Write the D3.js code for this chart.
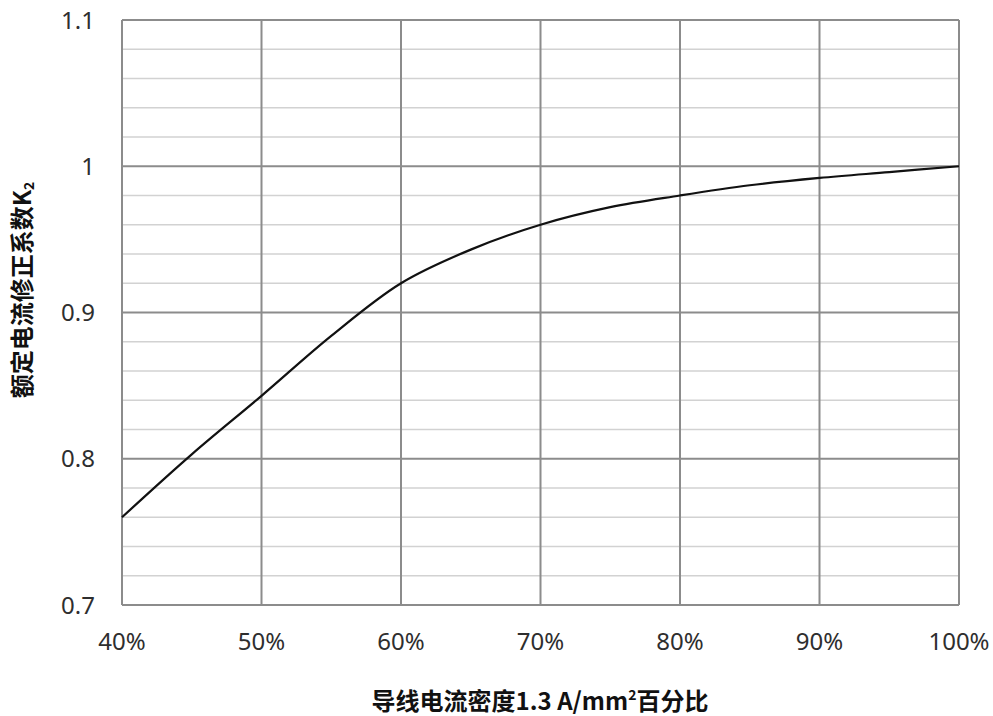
<!DOCTYPE html>
<html><head><meta charset="utf-8">
<script src="https://cdn.jsdelivr.net/npm/d3@7"></script>
<style>body{margin:0;background:#fff}</style>
</head><body><svg id="c" width="993" height="716"></svg>
<script>
const xValues = [40, 45, 50, 55, 60, 65, 70, 75, 80, 85, 90, 95, 100];
const kValues = [0.76, 0.803, 0.843, 0.884, 0.92, 0.943, 0.96, 0.972, 0.98, 0.987, 0.992, 0.996, 1.0];
const xTicks = [40, 50, 60, 70, 80, 90, 100];
const yTicks = [0.7, 0.8, 0.9, 1.0, 1.1];
const xTitle = ["导线电流密度1.3 A/mm", "2", "百分比"];
const yTitle = ["额定电流修正系数K", "2"];

const svg = d3.select("#c");
const L = 122, R = 959, T = 20, B = 605;
const x = d3.scaleLinear().domain([40, 100]).range([L, R]);
const y = d3.scaleLinear().domain([0.7, 1.1]).range([B, T]);
const font = "'Noto Sans', 'Noto Sans CJK SC', sans-serif";

// minor horizontal grid
const minor = d3.range(0, 21).map(i => 0.7 + i * 0.02).filter((v, i) => i % 5 !== 0);
svg.append("g").selectAll("line").data(minor).join("line")
  .attr("x1", L).attr("x2", R).attr("y1", d => y(d)).attr("y2", d => y(d))
  .attr("stroke", "#d2d2d2").attr("stroke-width", 1.5);
// major horizontal grid
svg.append("g").selectAll("line").data(yTicks).join("line")
  .attr("x1", L).attr("x2", R).attr("y1", d => y(d)).attr("y2", d => y(d))
  .attr("stroke", "#8c8c8c").attr("stroke-width", 2);
// vertical grid
svg.append("g").selectAll("line").data(xTicks).join("line")
  .attr("x1", d => x(d)).attr("x2", d => x(d)).attr("y1", T).attr("y2", B)
  .attr("stroke", "#8c8c8c").attr("stroke-width", 2);

// y tick labels
svg.append("g").selectAll("text").data(yTicks).join("text")
  .attr("x", 95).attr("y", d => y(d)).attr("dy", "0.36em")
  .attr("text-anchor", "end").attr("font-family", font).attr("font-size", 24)
  .attr("fill", "#2e2e2e").text(d => d3.format("~g")(d));
// x tick labels
svg.append("g").selectAll("text").data(xTicks).join("text")
  .attr("x", d => x(d)).attr("y", 641).attr("dy", "0.36em")
  .attr("text-anchor", "middle").attr("font-family", font).attr("font-size", 24)
  .attr("fill", "#2e2e2e").text(d => d + "%");

// curve
svg.append("path").datum(xValues.map((v, i) => [v, kValues[i]]))
  .attr("d", d3.line().x(d => x(d[0])).y(d => y(d[1])).curve(d3.curveCatmullRom.alpha(0.5)))
  .attr("fill", "none").attr("stroke", "#111").attr("stroke-width", 2.2);

// x title
const xt = svg.append("text").attr("x", 540).attr("y", 710)
  .attr("text-anchor", "middle").attr("font-family", "'Noto Sans CJK SC', sans-serif")
  .attr("font-weight", "bold").attr("font-size", 24).attr("fill", "#111");
xt.append("tspan").text(xTitle[0]);
xt.append("tspan").attr("font-size", 14).attr("dy", -10).text(xTitle[1]);
xt.append("tspan").attr("dy", 10).text(xTitle[2]);

// y title
const yt = svg.append("text").attr("transform", "translate(31,290) rotate(-90)")
  .attr("text-anchor", "middle").attr("font-family", "'Noto Sans CJK SC', sans-serif")
  .attr("font-weight", "bold").attr("font-size", 24).attr("fill", "#111");
yt.append("tspan").text(yTitle[0]);
yt.append("tspan").attr("font-size", 14).attr("dy", 3).text(yTitle[1]);
</script></body></html>
